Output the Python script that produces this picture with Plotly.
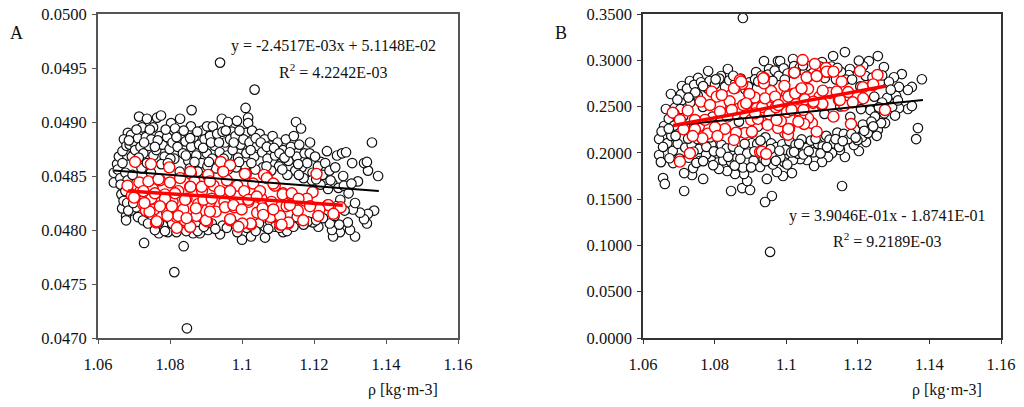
import plotly.graph_objects as go

x_ticks = [1.06, 1.08, 1.10, 1.12, 1.14, 1.16]
x_tick_labels = ["1.06", "1.08", "1.1", "1.12", "1.14", "1.16"]
a_y_ticks = [0.0470, 0.0475, 0.0480, 0.0485, 0.0490, 0.0495, 0.0500]
b_y_ticks = [0.0, 0.05, 0.10, 0.15, 0.20, 0.25, 0.30, 0.35]

a_black = [
(1.0939,.04955),(1.1035,.0493),(1.101,.04913),(1.086,.04911),(1.0728,.04788),(1.0838,.04785),(1.0812,.04761),(1.0847,.04709),
(1.1361,.04881),(1.115,.0490),(1.1164,.04894),(1.1189,.04881),(1.1378,.0485),(1.135,.04855),(1.1339,.04862),(1.1347,.04863),
(1.1306,.04862),(1.1322,.04845),(1.1281,.0485),(1.1264,.04869),(1.1278,.04871),(1.1289,.04872),(1.1236,.04873),(1.1219,.04863),
(1.1367,.04818),(1.135,.04815),(1.1347,.04806),(1.1339,.0481),(1.1328,.04816),(1.1308,.04819),(1.1314,.04825),(1.1314,.04794),
(1.13,.048),(1.1294,.04807),(1.1272,.04798),(1.1253,.04794),(1.125,.048),(1.127,.04805),(1.1244,.04806),(1.1212,.04803),(1.1197,.04807),
(1.0769,.04797),(1.0758,.048),(1.0794,.04798),(1.0864,.04797),(1.0883,.04797),(1.0906,.048),(1.0939,.04796),(1.1,.04791),(1.1025,.04794),
(1.1064,.04793),(1.1064,.04803),(1.1114,.04798),(1.1125,.04799),(1.0678,.04813),(1.0678,.04809),(1.0667,.0482),(1.0711,.04812),(1.0725,.04809),
(1.0714,.04905),(1.0736,.04903),(1.0764,.04904),(1.0775,.04906),(1.0722,.04895),(1.0753,.04895),(1.0683,.0489),(1.0672,.04884),(1.0692,.04888),
(1.0803,.04899),(1.0828,.04903),(1.0814,.04894),(1.0858,.04896),(1.0889,.04892),(1.0903,.04896),(1.0919,.04896),(1.0944,.04903),(1.0961,.049),
(1.0986,.04901),(1.1017,.04904),(1.1017,.04899),(1.1011,.0489),(1.0972,.04891),(1.0644,.04844),(1.0644,.04853),(1.0653,.04861),(1.0658,.04868),(1.0681,.04869),
(1.0655,.04856),(1.0662,.04848),(1.0668,.04862),(1.0672,.04841),(1.0665,.04833),(1.0671,.04827),(1.0668,.04873),(1.0676,.04853),(1.0679,.04878),(1.0682,.04846),
(1.0688,.04879),(1.0694,.04868),(1.0699,.04881),(1.0703,.04874),(1.0711,.04885),(1.0718,.04877),(1.0726,.04871),(1.0733,.04886),(1.0741,.04878),(1.0748,.04884),
(1.0754,.04869),(1.0762,.04874),(1.0771,.04887),(1.0779,.04879),(1.0785,.04868),(1.0792,.04886),(1.0799,.04875),(1.0807,.04881),(1.0812,.04866),(1.0821,.04877),
(1.0829,.04888),(1.0836,.04871),(1.0843,.04882),(1.0851,.04864),(1.0859,.04877),(1.0866,.04886),(1.0873,.04869),(1.0881,.04879),(1.0888,.04862),(1.0896,.04884),
(1.0902,.04871),(1.0911,.04887),(1.0917,.04866),(1.0924,.04878),(1.0931,.04889),(1.0938,.04872),(1.0946,.04891),(1.0953,.04881),(1.0959,.04869),(1.0967,.04884),
(1.0974,.04874),(1.0982,.04887),(1.0989,.04867),(1.0996,.04879),(1.1004,.04884),(1.1012,.04871),(1.1021,.04881),(1.1028,.04892),(1.1034,.04868),(1.1042,.04878),
(1.1049,.04889),(1.1056,.04872),(1.1063,.04884),(1.1071,.04866),(1.1078,.04878),(1.1085,.04887),(1.1092,.04869),(1.1099,.04881),(1.1107,.04861),(1.1114,.04874),
(1.1122,.04884),(1.1129,.04864),(1.1136,.04877),(1.1144,.04887),(1.1152,.04868),(1.1159,.04879),(1.1166,.04858),(1.1174,.04871),(1.1181,.04862),(1.1188,.04871),
(1.1196,.04853),(1.1203,.04868),(1.1211,.04859),(1.1224,.04851),(1.1231,.04862),(1.1243,.04855),(1.1251,.04843),(1.1259,.04858),(1.1268,.04839),(1.1283,.04841),
(1.1296,.04834),(1.1304,.04843),(1.1273,.04828),(1.1262,.04822),(1.1285,.04818),(1.1257,.04813),(1.1239,.04838),(1.1218,.04842),(1.1194,.04846),(1.1171,.04848),
(1.1148,.04855),(1.1126,.04851),(1.1103,.04859),(1.1081,.04855),(1.1058,.04858),(1.1037,.04856),(1.1009,.04859),(1.0984,.04858),(1.0961,.04856),(1.0928,.04857),
(1.0904,.04859),(1.0877,.04854),(1.0855,.04857),(1.0827,.04854),(1.0801,.04866),(1.0776,.04861),(1.0747,.04853),(1.0721,.04857),(1.0696,.04851),(1.0687,.04835),
(1.0681,.04825),(1.0692,.04818),(1.0706,.04821),(1.0738,.04816),(1.0752,.04811),(1.0781,.04804),(1.0806,.04806),(1.0838,.04805),(1.0872,.04805),(1.0916,.04806),
(1.0946,.04804),(1.0974,.04806),(1.1013,.04802),(1.1047,.04806),(1.1078,.04808),(1.1092,.04803),(1.1137,.04807),(1.1152,.04812),(1.1183,.04808),(1.1225,.04811),
(1.0686,.04883),(1.0707,.04893),(1.0728,.04881),(1.0744,.04893),(1.0766,.04883),(1.0788,.04893),(1.0818,.04886),(1.0838,.04892),(1.0856,.04885),(1.0876,.04891),
(1.0892,.04876),(1.0914,.04881),(1.0936,.04881),(1.0955,.04892),(1.0977,.04881),(1.0993,.04892),(1.1024,.04874),(1.1038,.04885),(1.1052,.04881),(1.1069,.04877),
(1.1089,.04876),(1.1104,.04871),(1.1118,.04867),(1.1133,.04872),(1.1156,.04861),(1.0713,.04867),(1.0736,.04862),(1.0758,.04877),(1.0794,.04862),(1.0844,.04869),
(1.0868,.04863),(1.0908,.04863),(1.0949,.04866),(1.0992,.04863),(1.1026,.04862),(1.1068,.04859),(1.1112,.04856),(1.1158,.04851),(1.1206,.04847),(1.1246,.04846),
(1.0663,.04842),(1.0676,.04836),(1.0684,.04818),(1.0698,.04825),(1.0739,.04806),(1.0769,.04807),(1.0786,.04799),(1.0818,.04798),(1.0845,.04799),(1.0877,.04799),
(1.0894,.04803),(1.0926,.04801),(1.0958,.04802),(1.0987,.04798),(1.1038,.04799),(1.1073,.04801),(1.1104,.04802),(1.1143,.04803),(1.1171,.04805),(1.1206,.04809),
]

a_red = [
(1.0858,.04852),(1.0906,.0485),(1.0947,.04855),(1.1011,.04852),(1.1067,.0485),(1.1114,.04834),(1.0856,.0484),(1.0967,.04836),
(1.0725,.04824),(1.0733,.04818),(1.0761,.04807),(1.0856,.04803),(1.0903,.04808),(1.0967,.04809),(1.1025,.04805),(1.1106,.04805),
(1.1128,.04806),(1.1239,.04823),(1.11,.04813),(1.1058,.0482),
(1.0718,.04836),(1.0752,.04838),(1.0772,.04846),(1.0786,.04833),(1.0769,.04825),(1.0748,.04829),(1.0792,.04816),(1.0807,.04826),(1.0823,.04836),(1.0837,.04819),
(1.0818,.04812),(1.0846,.04829),(1.0868,.04845),(1.0878,.04824),(1.0889,.04836),(1.0873,.04813),(1.0911,.04826),(1.0921,.04841),(1.0927,.04817),(1.0951,.04826),
(1.0958,.04846),(1.0979,.04821),(1.0987,.04841),(1.1018,.04826),(1.1031,.04843),(1.1042,.04816),(1.1054,.04829),(1.1082,.04826),(1.1091,.04841),(1.1079,.04812),
(1.1124,.04822),(1.1141,.04831),(1.1155,.04818),(1.1176,.04827),(1.1196,.04835),(1.0694,.04832),(1.0756,.04819),(1.0841,.04809),
(1.0703,.04863),(1.0747,.04861),(1.0798,.04858),(1.0941,.04863),(1.0967,.0486),(1.0948,.04854),(1.0857,.04854),(1.0906,.04851),(1.1008,.04852),(1.1061,.04851),
(1.1207,.04852),(1.0682,.04841),(1.0715,.04844),(1.074,.04845),(1.0768,.04847),(1.08,.04844),(1.0828,.04848),(1.0857,.0484),(1.0888,.0484),(1.0911,.04845),
(1.0939,.04836),(1.0967,.04836),(1.1006,.04836),(1.105,.04836),(1.1069,.04848),(1.1087,.04843),(1.1113,.04833),(1.1138,.04834),(1.118,.04829),(1.124,.04823),
(1.1274,.04821),(1.1254,.04815),(1.1215,.04819),(1.1212,.04813),(1.117,.04809),(1.1189,.04822),(1.1157,.04829),(1.1129,.04807),(1.1106,.04813),(1.111,.04805),
(1.1057,.0482),(1.1059,.04814),(1.1024,.04806),(1.1001,.04806),(1.099,.04803),(1.0967,.0481),(1.0953,.04821),(1.0976,.04823),(1.0999,.04819),(1.09,.04809),
(1.0911,.04817),(1.0872,.0482),(1.0856,.04803),(1.0819,.04802),(1.0823,.04813),(1.0846,.04811),(1.0793,.04813),(1.0763,.04808),(1.0743,.04817),(1.0729,.04825),
(1.07,.0483),(1.0726,.04836),(1.0758,.04834),(1.0786,.04829),(1.0814,.04834),(1.0842,.04828),(1.0772,.04822),(1.0805,.04822),(1.0893,.04828),(1.0916,.04829),
(1.1018,.04828),(1.1041,.04831),(1.1087,.04819),(1.1133,.04823),
]

b_black = [
(1.0879,.3457),(1.0955,.093),(1.096,.1534),(1.0941,.1469),(1.1156,.1642),(1.1379,.2795),(1.1368,.2268),(1.1363,.2149),(1.1323,.2851),(1.1301,.2817),(1.1351,.2712),
(1.134,.2679),(1.1315,.2712),(1.1307,.2615),(1.134,.2474),(1.1351,.2506),(1.1315,.2484),(1.1282,.2593),(1.1273,.2927),(1.1256,.3046),(1.1231,.2992),(1.1164,.3089),(1.1131,.3046),
(1.1276,.2322),(1.1256,.2247),(1.1265,.2322),(1.1223,.2117),(1.1203,.202),(1.1189,.2085),(1.1212,.2171),(1.1164,.1955),(1.115,.2031),(1.1128,.1998),(1.1117,.1955),(1.11,.1901),
(1.1078,.1858),(1.1058,.1923),(1.1039,.1933),(1.1019,.1923),(1.1016,.1782),(1.0991,.175),(1.0994,.19),(1.1044,.2042),
(1.0645,.215),(1.0645,.1977),(1.065,.19),(1.0656,.1728),(1.0661,.1664),(1.0715,.1588),(1.0768,.1718),(1.0846,.1588),(1.0877,.162),(1.0899,.1599),(1.0891,.1696),(1.0882,.1772),
(1.0857,.1772),(1.0835,.1804),(1.0812,.1826),(1.079,.1955),(1.0737,.1761),(1.074,.1836),(1.0715,.1782),(1.0684,.189),(1.0759,.1912),(1.0946,.1718),(1.0927,.1847),(1.0974,.1793),
(1.0678,.2636),(1.0664,.2474),(1.0659,.229),(1.0709,.2722),(1.0709,.2571),(1.0731,.2776),(1.0754,.2809),(1.0782,.2884),(1.0818,.283),(1.0837,.2906),(1.0916,.2873),(1.0938,.2992),
(1.0952,.2906),(1.0977,.2992),(1.0983,.2992),(1.1019,.3014),(1.11,.2981),(1.1178,.2906),(1.1215,.2938),(1.1175,.2841),
(1.0652,.2231),(1.0668,.2105),(1.0672,.2368),(1.0679,.2183),(1.0683,.2021),(1.0689,.2487),(1.0693,.2268),(1.0697,.2098),(1.0702,.1938),(1.0706,.2631),(1.0712,.2394),(1.0718,.2057),
(1.0723,.2694),(1.0728,.1947),(1.0732,.2543),(1.0736,.2084),(1.0743,.2735),(1.0749,.1892),(1.0753,.2618),(1.0757,.2042),(1.0762,.2763),(1.0767,.2497),(1.0772,.2118),(1.0776,.1981),
(1.0781,.2694),(1.0786,.2776),(1.0791,.2089),(1.0796,.1867),(1.0801,.2741),(1.0807,.1996),(1.0813,.2802),(1.0819,.2087),(1.0824,.1918),(1.0829,.2712),(1.0834,.2049),(1.0841,.2784),
(1.0846,.1902),(1.0851,.2067),(1.0858,.2751),(1.0863,.1948),(1.0869,.2023),(1.0873,.2803),(1.0879,.1842),(1.0886,.2684),(1.0891,.1993),(1.0897,.2761),(1.0904,.2104),(1.0909,.1915),
(1.0913,.2794),(1.0919,.2096),(1.0924,.2012),(1.0931,.2833),(1.0937,.1933),(1.0942,.2167),(1.0949,.2845),(1.0958,.2102),(1.0963,.1874),(1.0968,.2889),(1.0973,.2063),(1.0979,.2831),
(1.0984,.1952),(1.0989,.2093),(1.0993,.2913),(1.0998,.2034),(1.1004,.2857),(1.1009,.2127),(1.1014,.2004),(1.1022,.2937),(1.1026,.2088),(1.1033,.1991),(1.1038,.2923),(1.1043,.2145),
(1.1052,.2872),(1.1057,.2054),(1.1064,.2938),(1.1069,.2133),(1.1076,.2006),(1.1083,.2889),(1.1089,.2097),(1.1095,.2931),(1.1102,.2071),(1.1108,.2808),(1.1112,.2184),(1.1121,.2142),
(1.1126,.2933),(1.1133,.2103),(1.1139,.2794),(1.1143,.2219),(1.1148,.2063),(1.1153,.2874),(1.1161,.2204),(1.1167,.2792),(1.1173,.2148),(1.1184,.2792),(1.1192,.2253),(1.1199,.2137),
(1.1207,.2718),(1.1214,.2306),(1.1222,.2831),(1.1228,.2213),(1.1235,.2462),(1.1241,.2813),(1.1248,.2391),(1.1253,.2184),(1.1262,.2763),(1.1268,.2544),(1.1274,.2427),(1.1287,.2768),
(1.1296,.2496),(1.1304,.2403),(1.1259,.2491),(1.1238,.2337),(1.1209,.2473),(1.1179,.2389),(1.1151,.2502),(1.1107,.2421),(1.0995,.2212),(1.0921,.2284),(1.0868,.2337),(1.0794,.2391),
(1.0656,.2064),(1.0674,.1942),(1.0687,.2294),(1.0691,.2183),(1.0704,.2472),(1.0717,.2284),(1.0726,.2153),(1.0741,.2012),(1.0752,.2149),(1.0768,.1911),(1.0777,.2064),(1.0787,.2167),
(1.0798,.2016),(1.0817,.2004),(1.0838,.1956),(1.0856,.1862),(1.0872,.1936),(1.0884,.2098),(1.0902,.1843),(1.0911,.2017),(1.0928,.2132),(1.0943,.1911),(1.0956,.2041),(1.0971,.1914),
(1.0981,.2023),(1.1003,.1874),(1.1022,.2011),(1.1036,.2098),(1.1048,.1982),(1.1063,.2018),(1.1082,.2151),(1.1096,.1994),(1.1114,.2062),(1.1138,.2148),(1.1158,.2127),(1.1182,.2204),
(1.1194,.2164),(1.1218,.2238),(1.1243,.2286),(1.1246,.2607),(1.1268,.2836),(1.1292,.2682),(1.1312,.2566),(1.1203,.2996),(1.1143,.2917),(1.1112,.2868),(1.1074,.2862),(1.1047,.2944),
(1.0996,.2792),(1.0962,.2778),(1.0922,.2772),(1.0893,.2718),(1.0852,.2833),(1.0803,.2794),(1.0768,.2721),(1.0746,.2653),(1.0727,.2597),(1.0696,.2574),(1.0688,.2421),(1.0672,.2261),
]

b_red = [
(1.0857,.2701),(1.0871,.2787),(1.0877,.2744),(1.0857,.2419),(1.0846,.2484),(1.0863,.2215),(1.0904,.2225),(1.0885,.2215),(1.0896,.2636),(1.089,.2528),(1.0918,.2484),(1.0902,.2355),
(1.0927,.2009),(1.0938,.2809),(1.0958,.2668),(1.0966,.2593),(1.0977,.2268),(1.1111,.2917),(1.1117,.2873),(1.1086,.283),(1.1058,.2819),(1.1022,.2863),
(1.1242,.2733),(1.1173,.2657),(1.1122,.2647),(1.1061,.269),(1.1041,.269),(1.1019,.2636),(1.1008,.2603),(1.1002,.2625),(1.1147,.2571),(1.11,.2517),(1.1075,.2539),
(1.105,.2312),(1.1072,.2322),(1.1008,.2258),(1.1061,.2376),(1.1039,.2387),(1.1002,.2441),(1.0985,.2344),
(1.0756,.2287),(1.0773,.2356),(1.0781,.2208),(1.0836,.2391),(1.0842,.2557),(1.0868,.2478),(1.0912,.2598),(1.0921,.2367),(1.0933,.2495),(1.0953,.2417),(1.0971,.2492),(1.0989,.2558),
(1.0995,.2724),(1.1005,.2195),(1.1028,.2528),(1.1033,.2462),(1.1052,.2578),(1.1093,.2606),(1.1141,.2662),(1.1162,.2512),
(1.0683,.2434),(1.0725,.2456),(1.0703,.2355),(1.0745,.2355),(1.0761,.2553),(1.0792,.2661),(1.0806,.2607),(1.0787,.2517),(1.082,.2625),(1.0815,.2445),
(1.0854,.2697),(1.0874,.2769),(1.0897,.2636),(1.0938,.2751),(1.0936,.2805),(1.0941,.2589),(1.0969,.2607),(1.1006,.2607),(1.1025,.2643),(1.1046,.3003),
(1.108,.296),(1.1113,.2877),(1.1023,.2866),(1.1057,.2816),(1.1085,.283),(1.1132,.2877),(1.1155,.2769),(1.1206,.2884),(1.1255,.2841),(1.1214,.2708),
(1.1243,.274),(1.1102,.2672),(1.1043,.2697),(1.1186,.2546),(1.1215,.2589),(1.115,.2571),(1.1101,.2528),(1.1076,.2553),(1.1132,.2391),(1.1181,.2312),
(1.1276,.2463),(1.1085,.2229),(1.105,.2312),(1.1006,.2258),(1.0948,.2301),(1.0973,.2355),(1.0904,.2229),(1.086,.2218),(1.0854,.2139),(1.0829,.2258),
(1.0801,.2276),(1.0745,.2254),(1.0766,.2157),(1.0739,.2182),(1.0808,.2182),(1.0713,.2254),(1.0731,.1995),(1.0703,.1905),(1.0932,.2013),(1.0944,.1988),
(1.088,.2517),(1.0848,.2463),(1.0913,.2427),(1.0888,.2535),(1.0978,.2517),(1.1015,.2463),(1.1048,.2463),(1.1034,.2337),
]

a_black_line_x, a_black_line_y = [1.0644, 1.138], [0.04855, 0.04836]
a_red_line_x, a_red_line_y = [1.0683, 1.128], [0.04836, 0.04823]
b_black_line_x, b_black_line_y = [1.0684, 1.1382], [0.2296, 0.2571]
b_red_line_x, b_red_line_y = [1.0684, 1.1279], [0.2295, 0.2722]

W, H = 1024, 407
FONT = "Liberation Serif"

def scatter(points, color, size, lw, xa, ya):
    return go.Scatter(x=[p[0] for p in points], y=[p[1] for p in points], mode="markers", xaxis=xa, yaxis=ya,
                      cliponaxis=False, showlegend=False,
                      marker=dict(size=size, color="white", line=dict(color=color, width=lw)))

def line(x, y, color, width, xa, ya):
    return go.Scatter(x=x, y=y, mode="lines", xaxis=xa, yaxis=ya, showlegend=False, line=dict(color=color, width=width))

fig = go.Figure()
for t in [scatter(a_black, "#111111", 9.5, 1.2, "x", "y"), scatter(a_red, "#ff0000", 11, 1.4, "x", "y"),
          line(a_black_line_x, a_black_line_y, "black", 2, "x", "y"),
          line(a_red_line_x, a_red_line_y, "#ff0000", 3.5, "x", "y"),
          scatter(b_black, "#111111", 9.5, 1.2, "x2", "y2"), scatter(b_red, "#ff0000", 11, 1.4, "x2", "y2"),
          line(b_black_line_x, b_black_line_y, "black", 2, "x2", "y2"),
          line(b_red_line_x, b_red_line_y, "#ff0000", 3.5, "x2", "y2")]:
    fig.add_trace(t)

def xaxis(l, r, color, w):
    return dict(domain=[l / W, r / W], range=[1.06, 1.16], tickvals=x_ticks, ticktext=x_tick_labels, showgrid=False, automargin=False,
                zeroline=False, showline=True, linecolor=color, linewidth=w, mirror=True, ticks="outside", ticklen=4,
                ticklabelstandoff=6, tickcolor=color, tickfont=dict(family=FONT, size=16.5, color="#111"))

def yaxis(rng, vals, color, w):
    return dict(domain=[1 - 338 / H, 1 - 14 / H], range=rng, tickvals=vals, tickformat=".4f", showgrid=False, zeroline=False, automargin=False,
                showline=True, linecolor=color, linewidth=w, mirror=True, ticks="outside", ticklen=4, tickcolor=color,
                ticklabelstandoff=2, tickfont=dict(family=FONT, size=16.5, color="#111"))

def note(px, py, text, size=16):
    return dict(x=px / W, y=1 - py / H, xref="paper", yref="paper", text=text, showarrow=False, xanchor="center", yanchor="middle",
                font=dict(family=FONT, size=size, color="#111"))

fig.update_layout(
    width=W, height=H, margin=dict(l=0, r=0, t=0, b=0), paper_bgcolor="white", plot_bgcolor="white",
    xaxis=dict(anchor="y", **xaxis(98, 458, "#555555", 2)), yaxis=dict(anchor="x", **yaxis([0.047, 0.05], a_y_ticks, "#555555", 2)),
    xaxis2=dict(anchor="y2", **xaxis(643, 1001, "#333333", 1.5)), yaxis2=dict(anchor="x2", **yaxis([0, 0.35], b_y_ticks, "#333333", 1.5)),
    annotations=[
        note(16, 33, "A", 18), note(561, 33, "B", 18),
        note(333, 46, "y = -2.4517E-03x + 5.1148E-02"), note(333, 71, "R<sup>2</sup> = 4.2242E-03"),
        note(887, 216, "y = 3.9046E-01x - 1.8741E-01"), note(887, 240, "R<sup>2</sup> = 9.2189E-03"),
        note(403, 390, "ρ [kg·m-3]"), note(947, 390, "ρ [kg·m-3]"),
    ],
)
fig.write_html("out.html", config={"displayModeBar": False}, post_script="document.body.style.margin='0';")
